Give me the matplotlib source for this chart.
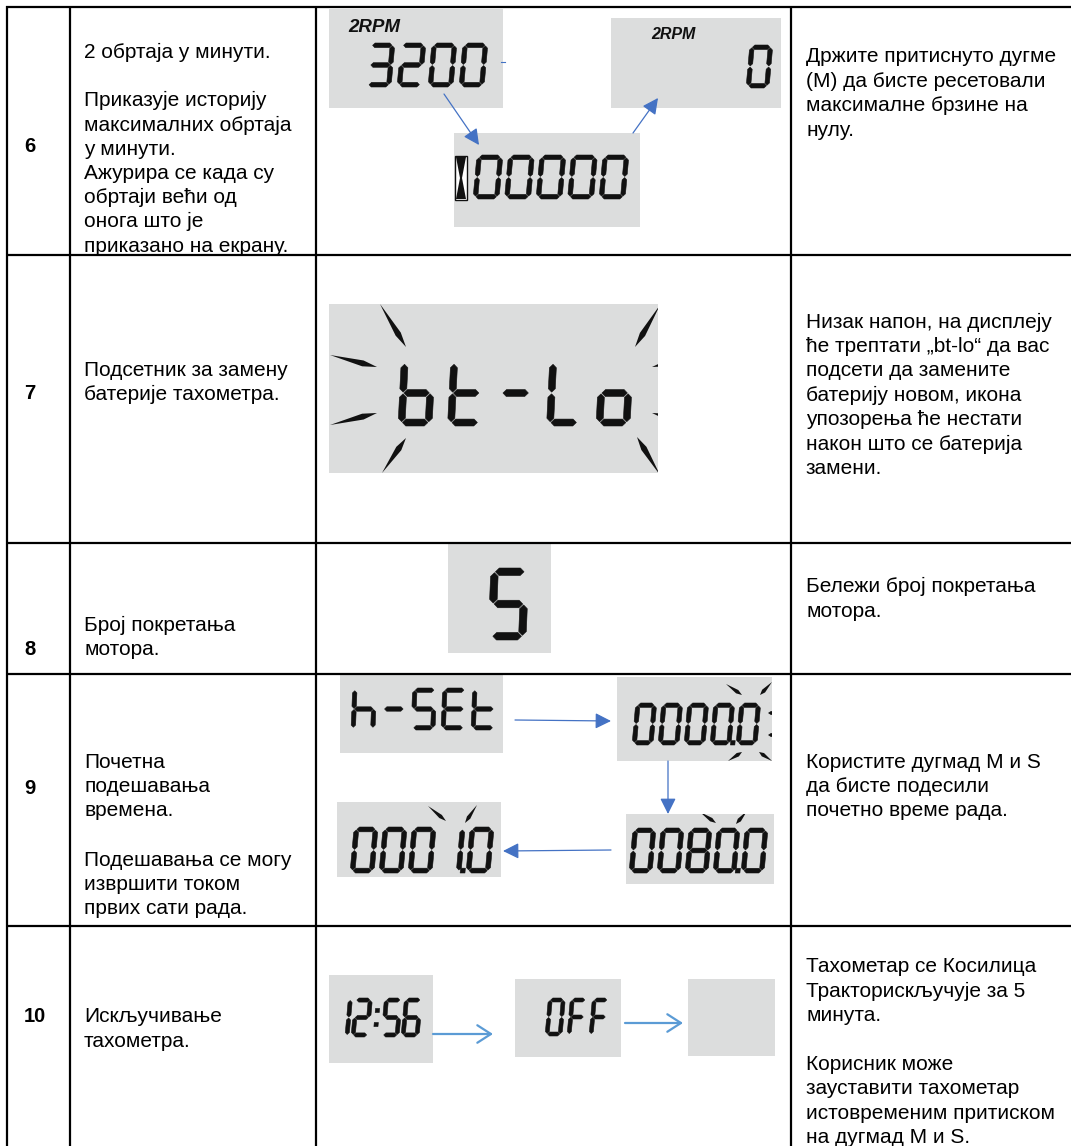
import matplotlib.pyplot as plt
from matplotlib.patches import Rectangle, Polygon, FancyArrowPatch
import numpy as np

plt.rcParams['font.family'] = ['Liberation Sans', 'DejaVu Sans']

# table content
row_labels = ["6", "7", "8", "9", "10"]

feature_text = [
    ["2 обртаја у минути.", "", "Приказује историју", "максималних обртаја", "у минути.",
     "Ажурира се када су", "обртаји већи од", "онога што је", "приказано на екрану."],
    ["Подсетник за замену", "батерије тахометра."],
    ["Број покретања", "мотора."],
    ["Почетна", "подешавања", "времена.", "", "Подешавања се могу", "извршити током",
     "првих сати рада."],
    ["Искључивање", "тахометра."],
]

note_text = [
    ["Држите притиснуто дугме", "(М) да бисте ресетовали", "максималне брзине на", "нулу."],
    ["Низак напон, на дисплеју", "ће трептати „bt-lo“ да вас", "подсети да замените",
     "батерију новом, икона", "упозорења ће нестати", "након што се батерија", "замени."],
    ["Бележи број покретања", "мотора."],
    ["Користите дугмад M и S", "да бисте подесили", "почетно време рада."],
    ["Тахометар се Косилица", "Тракторискључује за 5", "минута.", "", "Корисник може",
     "зауставити тахометар", "истовременим притиском", "на дугмад M и S."],
]

# what the LCD screens show
rpm_tag = "2RPM"
lcd_rpm = ["3200", "0"]
lcd_history = "00000"
lcd_battery = "bt-Lo"
lcd_starts = "5"
lcd_hours = ["h-SEt", "0000.0", "0080.0", "0001.0"]
lcd_off = ["12:56", "OFF"]

SEG = {'0': 'abcdef', '1': 'bc', '2': 'abdeg', '3': 'abcdg', '4': 'bcfg', '5': 'acdfg',
       '6': 'acdefg', '7': 'abc', '8': 'abcdefg', '9': 'abcdfg', 'b': 'cdefg', 't': 'defg',
       'L': 'def', 'o': 'cdeg', 'h': 'cefg', 'S': 'acdfg', 'E': 'adefg', 'F': 'aefg',
       'O': 'abcdef', '-': 'g'}

LCD_BG = '#dcdddd'
INK = '#111111'
BLUE = '#4472c4'
LIGHT_BLUE = '#5b9bd5'

fig = plt.figure(figsize=(10.71, 11.46), dpi=100)
ax = fig.add_axes([0, 0, 1, 1])
ax.set_xlim(0, 1071)
ax.set_ylim(1146, 0)
ax.axis('off')


def seg_points(name, x0, y0, w, h, t):
    g = 0.12 * t
    ym = y0 + h / 2
    xl, xr = x0 + t / 2, x0 + w - t / 2
    yt, yb = y0 + t / 2, y0 + h - t / 2
    if name in 'adg':
        y = {'a': yt, 'g': ym, 'd': yb}[name]
        xa, xb = xl + g, xr - g
        return [(xa, y), (xa + t / 2, y - t / 2), (xb - t / 2, y - t / 2), (xb, y),
                (xb - t / 2, y + t / 2), (xa + t / 2, y + t / 2)]
    x = xl if name in 'ef' else xr
    ya, yc = (yt, ym) if name in 'fb' else (ym, yb)
    ya += g
    yc -= g
    return [(x, ya), (x + t / 2, ya + t / 2), (x + t / 2, yc - t / 2), (x, yc),
            (x - t / 2, yc - t / 2), (x - t / 2, ya + t / 2)]


def lcd_text(text, x, top, h, w, pitch, slant=0.09, colon_w=10, thick=0.105):
    t = thick * h
    base = top + h

    def put(pts):
        pts = [(px + (base - py) * slant, py) for px, py in pts]
        ax.add_patch(Polygon(pts, closed=True, fc=INK, ec=INK, lw=0.4, zorder=3))

    cx = x
    last = x
    for ch in text:
        if ch == '.':
            dx = last + w + (pitch - w) / 2 - t * 0.2
            put([(dx - t / 2, base - t), (dx + t / 2, base - t), (dx + t / 2, base), (dx - t / 2, base)])
            continue
        if ch == ':':
            dx = cx + colon_w / 2 - (pitch - w) / 2
            for yy in (top + h * 0.32, top + h * 0.68):
                put([(dx - t / 2, yy - t / 2), (dx + t / 2, yy - t / 2),
                     (dx + t / 2, yy + t / 2), (dx - t / 2, yy + t / 2)])
            cx += colon_w
            continue
        for s in SEG.get(ch, ''):
            put(seg_points(s, cx, top, w, h, t))
        last = cx
        cx += pitch


def lcd_box(x, y, w, h):
    r = Rectangle((x, y), w, h, fc=LCD_BG, ec='none', zorder=1)
    ax.add_patch(r)
    return r


def needles(box, pairs, width):
    for p_out, p_in in pairs:
        p1, p2 = np.array(p_out, float), np.array(p_in, float)
        d = p2 - p1
        n = np.array([-d[1], d[0]]) / np.hypot(*d)
        m = p1 + 0.7 * d
        poly = Polygon([p1, m + n * width / 2, p2, m - n * width / 2], closed=True,
                       fc=INK, ec='none', zorder=3)
        ax.add_patch(poly)
        poly.set_clip_path(box)


def arrow(p1, p2, color, lw, style, scale):
    ax.add_patch(FancyArrowPatch(p1, p2, arrowstyle=style, mutation_scale=scale, color=color,
                                 lw=lw, shrinkA=0, shrinkB=0, zorder=4))


# row 6 - max rpm history
lcd_box(329, 9, 174, 99)
ax.text(348, 32, rpm_tag, fontsize=13.5, fontweight='bold', fontstyle='italic', color=INK, zorder=3)
lcd_text(lcd_rpm[0], 366, 43, 44, 25, 31)
ax.plot([501, 505], [62, 62], color=BLUE, lw=0.8)
lcd_box(611, 18, 170, 90)
ax.text(651, 39, rpm_tag, fontsize=11.5, fontweight='bold', fontstyle='italic', color=INK, zorder=3)
lcd_text(lcd_rpm[1], 746, 45, 43, 23, 31)
lcd_box(454, 133, 186, 94)
ax.add_patch(Rectangle((455, 156), 12, 44, fc='white', ec=INK, lw=1, zorder=3))
ax.add_patch(Polygon([(456, 157), (466, 157), (462, 178), (466, 199), (456, 199), (460, 178)],
                     closed=True, fc=INK, ec='none', zorder=3))
lcd_text(lcd_history, 473, 155, 44, 26, 31.5)
arrow((444, 94), (479, 145), BLUE, 0.9, '-|>,head_length=0.8,head_width=0.4', 12)
arrow((633, 133), (658, 98), BLUE, 0.9, '-|>,head_length=0.8,head_width=0.4', 12)

# row 7 - battery reminder
b7 = lcd_box(329, 304, 329, 169)
lcd_text(lcd_battery, 398, 360, 66, 34, 49.5, slant=0.05)
needles(b7, [((380, 304), (406, 347)), ((330, 355), (377, 367)), ((330, 425), (377, 413)),
             ((382, 473), (406, 438)), ((660, 305), (635, 347)), ((700, 355), (652, 367)),
             ((700, 425), (652, 413)), ((660, 475), (637, 437))], 6)

# row 8 - engine starts
lcd_box(448, 543, 103, 110)
lcd_text(lcd_starts, 488, 568, 72, 38, 40, slant=0.04)

# row 9 - hour setting
lcd_box(340, 675, 163, 78)
lcd_text(lcd_hours[0], 351, 688, 42, 24, 30, slant=0.04)
b9a = lcd_box(617, 677, 155, 84)
lcd_text(lcd_hours[1], 632, 703, 42, 21, 26)
needles(b9a, [((726, 684), (742, 695)), ((772, 682), (760, 695)), ((728, 761), (742, 752)),
              ((772, 761), (759, 752)), ((778, 713), (768, 713)), ((778, 735), (768, 735))], 4)
b9b = lcd_box(626, 814, 148, 70)
lcd_text(lcd_hours[2], 629, 828, 45, 23, 28)
needles(b9b, [((700, 812), (716, 823)), ((747, 811), (736, 824))], 4)
b9c = lcd_box(337, 802, 164, 75)
lcd_text(lcd_hours[3], 350, 827, 46, 24, 29)
needles(b9c, [((428, 806), (446, 821)), ((477, 805), (465, 823))], 4)
arrow((515, 720), (611, 721), BLUE, 0.9, '-|>,head_length=0.8,head_width=0.4', 12)
arrow((668, 761), (668, 814), BLUE, 0.9, '-|>,head_length=0.8,head_width=0.4', 12)
arrow((611, 850), (503, 851), BLUE, 0.9, '-|>,head_length=0.8,head_width=0.4', 12)

# row 10 - switching off
lcd_box(329, 975, 104, 88)
lcd_text(lcd_off[0], 331, 998, 39, 18, 20)
lcd_box(515, 979, 106, 78)
lcd_text(lcd_off[1], 545, 998, 38, 17, 22)
lcd_box(688, 979, 87, 77)
arrow((433, 1034), (493, 1034), LIGHT_BLUE, 1.6, '->,head_length=0.7,head_width=0.45', 14)
arrow((625, 1023), (683, 1023), LIGHT_BLUE, 1.6, '->,head_length=0.7,head_width=0.45', 14)

# text columns
label_base = [152, 399, 655, 794, 1022]
feat_base = [58, 375.5, 631, 767.5, 1022.5]
feat_step = [24.2, 24.5, 24, 24.5, 24.5]
note_base = [62.5, 327.5, 592.5, 767.5, 972.5]
for i, lab in enumerate(row_labels):
    ax.text(24, label_base[i], lab, fontsize=14.5, fontweight='bold', va='baseline', color='black')
    for j, line in enumerate(feature_text[i]):
        ax.text(84, feat_base[i] + j * feat_step[i], line, fontsize=15, va='baseline', color='black')
    for j, line in enumerate(note_text[i]):
        ax.text(806, note_base[i] + j * 24.4, line, fontsize=15, va='baseline', color='black')

# table grid
col_x = [7, 70, 316, 791]
row_y = [7, 255, 543, 674, 926]
ax.hlines(row_y, 6, 1071, color='black', lw=1.6, zorder=5)
ax.vlines(col_x, 6, 1146, color='black', lw=1.6, zorder=5)

fig.savefig('out.png', dpi=100)
